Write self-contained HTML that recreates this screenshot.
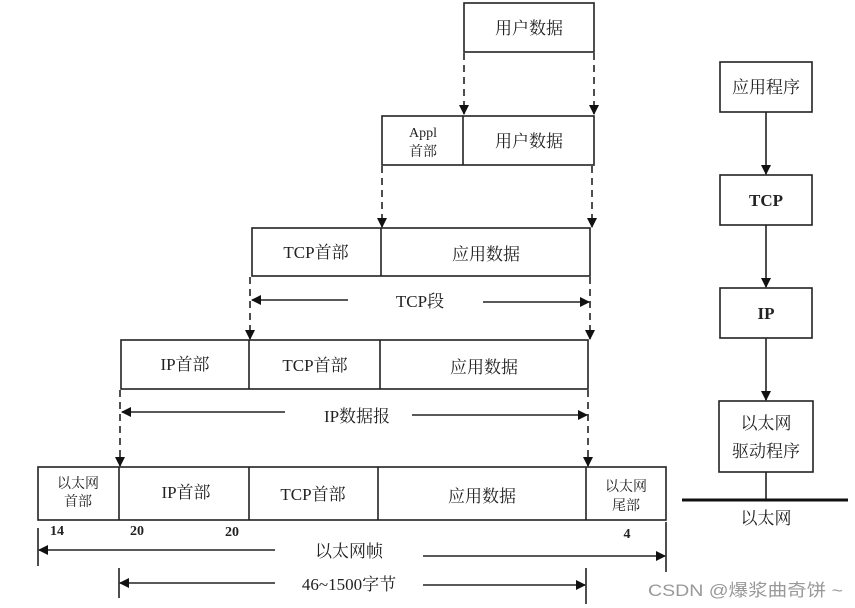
<!DOCTYPE html>
<html><head><meta charset="utf-8"><style>
html,body{margin:0;padding:0;background:#fff;}
svg{display:block;}
text{font-family:"Liberation Serif","Noto Serif CJK SC",serif;fill:#222;}
</style></head><body>
<svg width="855" height="608" viewBox="0 0 855 608" xmlns="http://www.w3.org/2000/svg">
<defs>
<marker id="ah" markerWidth="10" markerHeight="12" refX="9" refY="6" orient="auto" markerUnits="userSpaceOnUse">
<path d="M0,1 L10,6 L0,11 Z" fill="#111"/></marker>
</defs>
<g stroke="#222" stroke-width="1.6" fill="none">
<rect x="464" y="3" width="130" height="49"/>
<rect x="382" y="116" width="212" height="49"/><line x1="463" y1="116" x2="463" y2="165"/>
<rect x="252" y="228" width="338" height="48"/><line x1="381" y1="228" x2="381" y2="276"/>
<rect x="121" y="340" width="467" height="49"/><line x1="249" y1="340" x2="249" y2="389"/><line x1="380" y1="340" x2="380" y2="389"/>
<rect x="38" y="467" width="628" height="53"/>
<line x1="119" y1="467" x2="119" y2="520"/><line x1="249" y1="467" x2="249" y2="520"/><line x1="378" y1="467" x2="378" y2="520"/><line x1="586" y1="467" x2="586" y2="520"/>
<rect x="720" y="62" width="92" height="50"/>
<rect x="720" y="175" width="92" height="50"/>
<rect x="720" y="288" width="92" height="50"/>
<rect x="719" y="401" width="94" height="71"/>
<line x1="766" y1="472" x2="766" y2="500"/>
</g>
<line x1="682" y1="500" x2="848" y2="500" stroke="#111" stroke-width="3"/>
<g stroke="#222" stroke-width="1.6" fill="none" marker-end="url(#ah)">
<line x1="766" y1="112" x2="766" y2="174"/>
<line x1="766" y1="225" x2="766" y2="287"/>
<line x1="766" y1="338" x2="766" y2="400"/>
</g>
<g stroke="#222" stroke-width="1.6" fill="none" stroke-dasharray="7,5" marker-end="url(#ah)">
<line x1="464" y1="53" x2="464" y2="114"/>
<line x1="594" y1="53" x2="594" y2="114"/>
<line x1="382" y1="166" x2="382" y2="227"/>
<line x1="592" y1="166" x2="592" y2="227"/>
<line x1="250" y1="277" x2="250" y2="339"/>
<line x1="590" y1="277" x2="590" y2="339"/>
<line x1="120" y1="390" x2="120" y2="466"/>
<line x1="588" y1="390" x2="588" y2="466"/>
</g>
<g stroke="#222" stroke-width="1.6" fill="none">
<line x1="38" y1="528" x2="38" y2="566"/><line x1="666" y1="522" x2="666" y2="572"/>
<line x1="119" y1="568" x2="119" y2="598"/><line x1="586" y1="568" x2="586" y2="604"/>
</g>
<g stroke="#222" stroke-width="1.6" fill="none" marker-end="url(#ah)">
<line x1="348" y1="300" x2="252" y2="300"/><line x1="483" y1="302" x2="589" y2="302"/>
<line x1="285" y1="412" x2="122" y2="412"/><line x1="412" y1="415" x2="587" y2="415"/>
<line x1="275" y1="550" x2="39" y2="550"/><line x1="423" y1="556" x2="665" y2="556"/>
<line x1="275" y1="583" x2="120" y2="583"/><line x1="423" y1="585" x2="585" y2="585"/>
</g>
<g font-size="17" text-anchor="middle">
<text x="529" y="34">用户数据</text>
<text x="529" y="147">用户数据</text>
<text x="316" y="258">TCP首部</text>
<text x="486" y="260">应用数据</text>
<text x="420" y="307">TCP段</text>
<text x="185" y="370">IP首部</text>
<text x="315" y="371">TCP首部</text>
<text x="484" y="373">应用数据</text>
<text x="357" y="422">IP数据报</text>
<text x="186" y="498">IP首部</text>
<text x="313" y="500">TCP首部</text>
<text x="482" y="502">应用数据</text>
<text x="349" y="557">以太网帧</text>
<text x="349" y="590">46~1500字节</text>
<text x="766" y="93">应用程序</text>
<text x="766" y="206" font-weight="bold">TCP</text>
<text x="766" y="319" font-weight="bold">IP</text>
<text x="766" y="429">以太网</text>
<text x="766" y="457">驱动程序</text>
<text x="766" y="524">以太网</text>
</g>
<g font-size="14" text-anchor="middle">
<text x="423" y="137">Appl</text><text x="423" y="156">首部</text>
<text x="78" y="488">以太网</text><text x="78" y="506">首部</text>
<text x="626" y="491">以太网</text><text x="626" y="510">尾部</text>
</g>
<g font-size="14" font-weight="bold" text-anchor="middle">
<text x="57" y="535">14</text><text x="137" y="535">20</text><text x="232" y="536">20</text><text x="627" y="538">4</text>
</g>
<text x="648" y="596" font-size="17" textLength="195" lengthAdjust="spacingAndGlyphs" style="font-family:'Liberation Sans','Noto Sans CJK SC',sans-serif;fill:#999">CSDN @爆浆曲奇饼 ~</text>
</svg>
</body></html>
